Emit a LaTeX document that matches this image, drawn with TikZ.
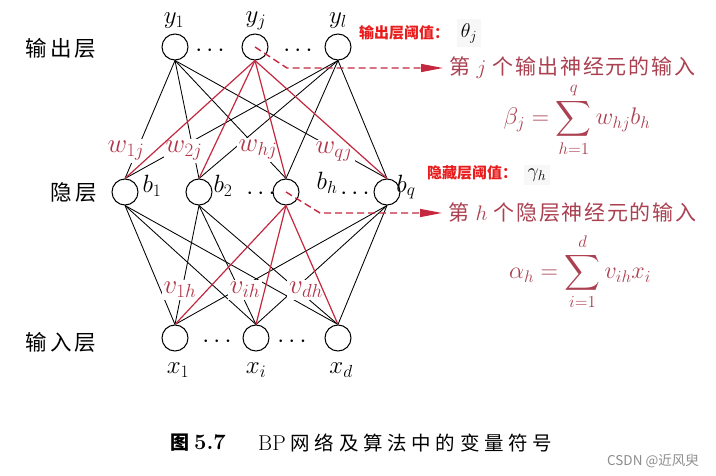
\RequirePackage{fix-cm}
\documentclass[tikz,border=0pt]{standalone}
\usepackage{amsmath}
\usepackage{fontspec}
\newfontfamily\cjk{Noto Sans CJK SC}
\newfontfamily\cjkwide[LetterSpace=14]{Noto Sans CJK SC}
\newfontfamily\cjknote[LetterSpace=8]{Noto Sans CJK SC}
\newfontfamily\cjkcap[LetterSpace=24]{Noto Sans CJK SC}
\usepackage{tikz}
\usetikzlibrary{arrows.meta}

\definecolor{linkred}{RGB}{196,40,62}
\definecolor{labred}{RGB}{178,52,72}
\definecolor{notered}{RGB}{232,28,28}
\definecolor{sumred}{RGB}{170,64,80}

\tikzset{
    neuron/.style={circle, draw, line width=1pt, minimum size=26pt, inner sep=0pt},
    mlab/.style={inner sep=0pt, font=\fontsize{25}{30}\selectfont},
    layer/.style={inner sep=0pt, font=\cjkwide\fontsize{21.5}{26}\selectfont},
    link/.style={line width=0.85pt},
    hot/.style={linkred, line width=1.2pt},
    wlab/.style={fill=white, inner sep=2pt, text=labred, font=\fontsize{27}{32}\selectfont},
    pointer/.style={linkred, dash pattern=on 7pt off 4pt, line width=1.4pt, -{Triangle[length=22pt,width=8pt]}},
    ntext/.style={inner sep=0pt, text=sumred, font=\fontsize{21}{25}\selectfont},
    warn/.style={inner sep=1pt, text=notered, font=\cjk\bfseries\fontsize{15}{18}\selectfont},
}

\begin{document}
\begin{tikzpicture}[x=1pt, y=-1pt]
        \useasboundingbox (0,0) rectangle (716,476);

        \node[neuron] (y1) at (175,47) {};
        \node[neuron] (yj) at (255,47) {};
        \node[neuron] (yl) at (338,47) {};
        \node[neuron] (b1) at (125,192) {};
        \node[neuron] (b2) at (199,192) {};
        \node[neuron] (bh) at (286,192) {};
        \node[neuron] (bq) at (387,192) {};
        \node[neuron] (x1) at (175,338) {};
        \node[neuron] (xi) at (256,338) {};
        \node[neuron] (xd) at (338,338) {};

        \node[mlab] (ly1) at (174,21) {$y_1$};
        \node[mlab] (lyj) at (256,21) {$y_j$};
        \node[mlab] (lyl) at (338,21) {$y_l$};
        \node[mlab] (lb1) at (152,186) {$b_1$};
        \node[mlab] (lb2) at (223,186) {$b_2$};
        \node[mlab] (lbh) at (327,183) {$b_h$};
        \node[mlab] (lbq) at (406,187) {$b_q$};
        \node[mlab] (lx1) at (178,370) {$x_1$};
        \node[mlab] (lxi) at (256,370) {$x_i$};
        \node[mlab] (lxd) at (341,370) {$x_d$};

        \node[mlab] (d1) at (212,51) {$\cdots$};
        \node[mlab] (d2) at (300,51) {$\cdots$};
        \node[mlab] (d3) at (263,194) {$\cdots$};
        \node[mlab] (d4) at (357,194) {$\cdots$};
        \node[mlab] (d5) at (219,342) {$\cdots$};
        \node[mlab] (d6) at (294,342) {$\cdots$};

        \node[layer] (lout) at (61,48) {输出层};
        \node[layer] (lhid) at (74,193) {隐层};
        \node[layer] (lin) at (61,342) {输入层};

        \foreach \t in {y1,yl}
            \foreach \b in {b1,b2,bh,bq}
                \draw[link] (\t.south) -- (\b.north);
        \foreach \b in {b1,b2,bq}
            \foreach \i in {x1,xi,xd}
                \draw[link] (\b.south) -- (\i.north);

        \node[wlab] (w1) at (126,151) {$w_{1j}$};
        \node[wlab] (w2) at (184,151) {$w_{2j}$};
        \node[wlab] (wh) at (258,150) {$w_{hj}$};
        \node[wlab] (wq) at (334,152) {$w_{qj}$};
        \node[wlab] (v1) at (180,290) {$v_{1h}$};
        \node[wlab] (vi) at (245,290) {$v_{ih}$};
        \node[wlab] (vd) at (306,290) {$v_{dh}$};

        \foreach \b in {b1,b2,bh,bq}
            \draw[hot] (yj.south) -- (\b.north);
        \foreach \i in {x1,xi,xd}
            \draw[hot] (bh.south) -- (\i.north);

        \node[ntext, anchor=west] (tj) at (449,68) {{\cjknote 第} $j$ {\cjknote 个输出神经元的输入}};
        \node[ntext, anchor=west] (th) at (448,213) {{\cjknote 第} $h$ {\cjknote 个隐层神经元的输入}};
        \coordinate (kj) at (287,68);
        \coordinate (kh) at (320,213);
        \draw[pointer] (yj.center) -- (kj) -- ([xshift=-6pt]tj.west);
        \draw[pointer] (bh.center) -- (kh) -- ([xshift=-6pt]th.west);

        \node[inner sep=0pt, text=sumred, font=\fontsize{24}{28}\selectfont] (beta) at (577,120)
            {$\displaystyle \beta_j = \sum_{h=1}^{q} w_{hj} b_h$};
        \node[inner sep=0pt, text=sumred, font=\fontsize{24}{28}\selectfont] (alpha) at (580,272)
            {$\displaystyle \alpha_h = \sum_{i=1}^{d} v_{ih} x_i$};

        \node[warn] (nout) at (404,33) {输出层阈值：};
        \node[fill=black!3, inner sep=4pt, font=\fontsize{20}{24}\selectfont] (theta) at (469,33) {$\theta_j$};
        \node[warn] (nhid) at (472,173) {隐藏层阈值：};
        \node[fill=black!3, inner sep=4pt, font=\fontsize{20}{24}\selectfont] (gamma) at (537,175) {$\gamma_h$};

        \node[inner sep=0pt, anchor=west, font=\fontsize{22}{26}\selectfont] (cap) at (170,443)
            {{\cjk\bfseries\fontsize{19}{23}\selectfont 图}\hspace{5pt}\textbf{5.7}};
        \node[inner sep=0pt, anchor=west, font=\fontsize{21.5}{25}\selectfont] (capt) at (258,443)
            {BP\hspace{5pt}{\cjkcap\fontsize{19.5}{23}\selectfont 网络及算法中的变量符号}};
        \node[inner sep=0pt, text=black!45, font=\cjk\fontsize{13.5}{16}\selectfont] (wm) at (653,461) {CSDN @近风臾};
    \end{tikzpicture}
\end{document}
